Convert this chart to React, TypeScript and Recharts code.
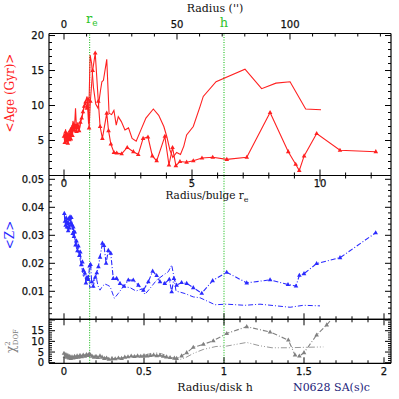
import { Line, LineChart, ReferenceLine, XAxis, YAxis } from "recharts";

const W = 399;
const H = 399;

// unit conversions
const RE_IN_H = 0.16; // bulge r_e expressed in disk scale lengths
const ARCSEC_PER_H = 70.8;

const H_DOMAIN: [number, number] = [-0.09375, 2.04375];
const RE_DOMAIN: [number, number] = [H_DOMAIN[0] / RE_IN_H, H_DOMAIN[1] / RE_IN_H];
const AS_DOMAIN: [number, number] = [H_DOMAIN[0] * ARCSEC_PER_H, H_DOMAIN[1] * ARCSEC_PER_H];

const AGE_DOMAIN: [number, number] = [0, 20.29];
const Z_DOMAIN: [number, number] = [0, 0.05136];
const CHI_DOMAIN: [number, number] = [-0.28, 20.35];

// ---- data: [radius, value] ----
// top panel, radius in r/r_e
const ageLum: [number, number][] = [
  [0.0, 5.6], [0.03, 4.7], [0.06, 6.2], [0.09, 4.9], [0.12, 5.9], [0.15, 4.6], [0.18, 5.5],
  [0.21, 5.1], [0.24, 6.4], [0.27, 5.2], [0.3, 6.8], [0.33, 5.7], [0.37, 7.3], [0.41, 6.5],
  [0.45, 7.1], [0.49, 6.3], [0.54, 7.0], [0.59, 6.4], [0.64, 7.6], [0.69, 8.2], [0.74, 9.1],
  [0.79, 9.9], [0.84, 10.5], [0.89, 9.6], [0.94, 10.9], [0.98, 6.8], [1.03, 10.6], [1.12, 15.0],
  [1.22, 17.5], [1.34, 10.6], [1.41, 7.0], [1.5, 5.3], [1.67, 8.9], [1.74, 6.4], [1.83, 4.5],
  [1.95, 3.3], [2.06, 3.2], [2.25, 3.1], [2.47, 4.0], [2.71, 3.4], [2.9, 3.0], [3.09, 5.3],
  [3.28, 5.5], [3.45, 2.8], [3.62, 2.1], [3.94, 5.6], [4.1, 1.5], [4.24, 4.0], [4.37, 1.4],
  [4.53, 2.0], [4.79, 1.9], [5.05, 2.1], [5.39, 2.5], [5.81, 2.6], [6.36, 2.3], [7.14, 2.6],
  [8.05, 9.0], [8.76, 3.4], [9.05, 1.6], [9.19, 0.7], [9.38, 2.8], [9.87, 6.0], [10.78, 3.6],
  [12.18, 3.4],
];
const ageMass: [number, number][] = [
  [0.0, 6.0], [0.03, 5.0], [0.06, 6.6], [0.09, 4.9], [0.12, 6.1], [0.15, 4.8], [0.19, 6.4],
  [0.23, 5.3], [0.27, 6.9], [0.31, 5.6], [0.35, 7.8], [0.4, 6.2], [0.45, 9.6], [0.49, 6.6],
  [0.54, 7.6], [0.6, 6.5], [0.66, 7.9], [0.72, 8.6], [0.78, 9.8], [0.84, 10.6], [0.9, 11.3],
  [0.96, 7.4], [1.02, 17.2], [1.08, 16.0], [1.15, 12.6], [1.24, 10.2], [1.33, 9.6], [1.42, 12.0],
  [1.48, 13.4], [1.54, 13.6], [1.67, 16.6], [1.76, 8.9], [1.86, 8.7], [1.95, 9.3], [2.04, 7.2],
  [2.12, 8.4], [2.24, 7.7], [2.38, 6.5], [2.52, 6.8], [2.66, 5.3], [2.82, 4.9], [2.98, 6.3],
  [3.2, 8.2], [3.49, 9.5], [3.7, 8.6], [3.9, 7.0], [4.02, 5.5], [4.14, 3.6], [4.25, 2.6],
  [4.4, 3.3], [4.55, 3.0], [4.68, 4.2], [4.79, 5.8], [5.05, 7.0], [5.31, 9.8], [5.44, 11.3],
  [5.94, 13.4], [7.07, 15.2], [7.72, 12.4], [8.28, 13.2], [8.83, 13.4], [9.44, 9.5], [10.04, 9.4],
];

// middle panel, radius in r/h
const zLum: [number, number][] = [
  [0.002, 0.0378], [0.006, 0.035], [0.01, 0.0336], [0.014, 0.0362], [0.018, 0.033], [0.022, 0.0346],
  [0.026, 0.0316], [0.03, 0.036], [0.034, 0.0326], [0.038, 0.0366], [0.042, 0.0344], [0.046, 0.0364],
  [0.05, 0.0338], [0.054, 0.0306], [0.058, 0.033], [0.062, 0.0296], [0.067, 0.0312], [0.072, 0.0265],
  [0.078, 0.028], [0.084, 0.0245], [0.09, 0.0262], [0.096, 0.0228], [0.102, 0.024], [0.108, 0.0195],
  [0.115, 0.0205], [0.122, 0.0175], [0.13, 0.0165], [0.137, 0.013], [0.144, 0.015], [0.152, 0.0142],
  [0.16, 0.019], [0.166, 0.0196], [0.173, 0.0134], [0.183, 0.0118], [0.195, 0.015], [0.205, 0.0166],
  [0.215, 0.0188], [0.225, 0.0222], [0.24, 0.0272], [0.25, 0.0264], [0.263, 0.02], [0.277, 0.0246],
  [0.292, 0.0236], [0.308, 0.0146], [0.329, 0.0146], [0.35, 0.0128], [0.375, 0.0118], [0.402, 0.014],
  [0.433, 0.014], [0.465, 0.0122], [0.496, 0.0104], [0.527, 0.0134], [0.554, 0.0172], [0.579, 0.0156],
  [0.6, 0.0134], [0.63, 0.0128], [0.658, 0.0143], [0.673, 0.0098], [0.687, 0.0146], [0.704, 0.0122],
  [0.735, 0.0131], [0.767, 0.0128], [0.808, 0.0113], [0.861, 0.0093], [0.929, 0.0138], [1.017, 0.0168],
  [1.142, 0.013], [1.288, 0.0141], [1.4, 0.0124], [1.45, 0.0119], [1.471, 0.0157], [1.5, 0.0163],
  [1.579, 0.0199], [1.725, 0.022], [1.948, 0.0309],
];
const zMass: [number, number][] = [
  [0.002, 0.037], [0.008, 0.034], [0.014, 0.0355], [0.02, 0.0322], [0.026, 0.0348], [0.032, 0.0318],
  [0.038, 0.0352], [0.044, 0.033], [0.05, 0.0345], [0.056, 0.03], [0.062, 0.0318], [0.07, 0.0275],
  [0.078, 0.0255], [0.086, 0.0235], [0.094, 0.0245], [0.102, 0.021], [0.112, 0.0185], [0.122, 0.015],
  [0.132, 0.017], [0.142, 0.014], [0.152, 0.016], [0.162, 0.0112], [0.172, 0.012], [0.185, 0.014],
  [0.2, 0.0155], [0.212, 0.012], [0.225, 0.0104], [0.24, 0.0118], [0.256, 0.0126], [0.272, 0.0122],
  [0.288, 0.0117], [0.315, 0.0075], [0.34, 0.0093], [0.371, 0.0117], [0.413, 0.0113], [0.45, 0.0101],
  [0.485, 0.0108], [0.506, 0.0089], [0.537, 0.011], [0.579, 0.014], [0.621, 0.0158], [0.652, 0.017],
  [0.673, 0.0194], [0.687, 0.0152], [0.7, 0.0101], [0.756, 0.0092], [0.808, 0.008], [0.85, 0.0077],
  [0.944, 0.0052], [1.017, 0.0054], [1.131, 0.005], [1.225, 0.0054], [1.413, 0.0043], [1.496, 0.005],
  [1.6, 0.0048],
];

// bottom panel, radius in r/h
const chiLum: [number, number][] = [
  [0.0, 4.4], [0.006, 3.0], [0.012, 3.8], [0.018, 2.6], [0.024, 3.4], [0.03, 2.2], [0.036, 3.0],
  [0.042, 2.0], [0.05, 2.8], [0.058, 2.2], [0.066, 3.0], [0.074, 2.4], [0.082, 3.2], [0.09, 2.6],
  [0.1, 3.4], [0.11, 2.8], [0.12, 3.6], [0.13, 3.0], [0.14, 3.8], [0.15, 3.4], [0.158, 4.2],
  [0.166, 3.6], [0.176, 3.0], [0.188, 2.6], [0.2, 3.0], [0.212, 2.4], [0.225, 3.2], [0.238, 2.6],
  [0.252, 2.0], [0.266, 2.2], [0.28, 1.6], [0.3, 2.0], [0.32, 1.8], [0.34, 2.2], [0.36, 2.0],
  [0.38, 2.6], [0.4, 2.8], [0.42, 3.1], [0.44, 2.9], [0.46, 3.2], [0.48, 3.0], [0.5, 3.3],
  [0.52, 3.1], [0.54, 3.4], [0.56, 3.6], [0.58, 3.3], [0.6, 3.5], [0.62, 3.0], [0.64, 2.7],
  [0.663, 2.4], [0.69, 2.1], [0.704, 2.0], [0.735, 3.2], [0.767, 4.7], [0.808, 7.2], [0.871, 8.6],
  [0.933, 10.3], [1.017, 13.7], [1.142, 16.9], [1.288, 14.4], [1.402, 10.6], [1.444, 3.6],
  [1.471, 3.1], [1.5, 4.7], [1.579, 13.0], [1.642, 17.7], [1.7, 23.0],
];
const chiMass: [number, number][] = [
  [0.0, 4.0], [0.01, 3.2], [0.02, 2.6], [0.035, 3.0], [0.05, 2.4], [0.07, 2.8], [0.09, 3.0],
  [0.11, 3.2], [0.13, 3.4], [0.15, 3.8], [0.17, 3.4], [0.19, 2.8], [0.21, 2.6], [0.24, 2.4],
  [0.27, 2.2], [0.3, 2.0], [0.34, 2.1], [0.38, 2.4], [0.42, 2.8], [0.46, 3.2], [0.5, 3.6],
  [0.54, 4.2], [0.58, 4.6], [0.61, 4.2], [0.65, 3.0], [0.69, 2.0], [0.73, 1.6], [0.76, 2.4],
  [0.81, 4.4], [0.87, 6.2], [0.95, 7.6], [1.017, 7.8], [1.142, 9.5], [1.22, 8.0], [1.3, 7.0],
  [1.4, 7.0], [1.5, 7.2], [1.621, 7.4],
];

// ---- ticks ----
const steps = (from: number, to: number, step: number) => {
  const out: number[] = [];
  for (let i = 0; from + i * step <= to + 1e-9; i++) out.push(Math.round((from + i * step) * 1e6) / 1e6);
  return out;
};
const asTicks = steps(0, 140, 10);
const asMajor = [0, 50, 100];
const reTicks = steps(0, 12, 1);
const reMajor = [0, 5, 10];
const hTicks = steps(0, 2, 0.1);
const hMajor = [0, 0.5, 1, 1.5, 2];
const hLabels = [0, 0.5, 1, 1.5, 2];
const ageTicks = steps(0, 20, 1);
const ageMajor = [0, 5, 10, 15, 20];
const ageLabels = [5, 10, 15, 20];
const zTicks = steps(0, 0.05, 0.002);
const zMajor = [0.01, 0.02, 0.03, 0.04, 0.05];
const chiTicks = steps(0, 20, 1);
const chiMajor = [0, 5, 10, 15, 20];
const chiLabels = [0, 5, 10, 15];

const RED = "#ff2020";
const BLUE = "#2a2aff";
const GRAY = "#808080";
const GREEN = "#2ec42e";
const INK = "#111";
const frame = { stroke: "#000", strokeWidth: 1.2 };
const guide = { stroke: GREEN, strokeWidth: 1.2, strokeDasharray: "1 1.5" };

const toPts = (rows: [number, number][]) => rows.map(([x, y]) => ({ x, y }));

type Side = "left" | "right" | "top" | "bottom";
const has = (list: number[], v: number) => list.some((m) => Math.abs(m - v) < 1e-7);

function axisTick(side: Side, major: number[], labels: number[], labelDy = 0) {
  return (props: any) => {
    const { x, y, payload, index } = props;
    const v = payload.value as number;
    const len = has(major, v) ? 6 : 3;
    const x2 = side === "left" ? x + len : side === "right" ? x - len : x;
    const y2 = side === "top" ? y + len : side === "bottom" ? y - len : y;
    const show = has(labels, v);
    return (
      <g key={`${side}-${index}`}>
        <line x1={x} y1={y} x2={x2} y2={y2} stroke="#000" strokeWidth={1} />
        {show && (
          <text
            x={side === "left" ? x - 5 : x}
            y={side === "left" ? y + 3.6 : y + labelDy}
            textAnchor={side === "left" ? "end" : "middle"}
            fontFamily="DejaVu Sans"
            fontSize={10}
            fill={INK}
            stroke={INK}
            strokeWidth={0.25}
          >
            {String(v)}
          </text>
        )}
      </g>
    );
  };
}

const triangle = (color: string) => (props: any) => {
  const { cx, cy, index } = props;
  if (cx == null || cy == null) return <g key={index} />;
  return <path key={index} d={`M${cx},${cy - 2.6}L${cx + 2.3},${cy + 1.5}L${cx - 2.3},${cy + 1.5}Z`} fill={color} />;
};

const axisCommon = {
  type: "number" as const,
  allowDataOverflow: true,
  interval: 0 as const,
  tickSize: 0,
  tickMargin: 0,
  axisLine: frame,
  tickLine: false,
};

// axes take 1px each, so the margins are 1px short of the plot edges
const panelMargin = (top: number, bottom: number) => ({ top: top - 1, bottom: H - bottom - 1, left: 48, right: 7 });

const layer: React.CSSProperties = { position: "absolute", left: 0, top: 0 };

export default function App() {
  return (
    <div style={{ position: "absolute", left: 0, top: 0, width: W, height: H, background: "#fff" }}>
      {/* age panel */}
      <div style={layer}>
        <LineChart width={W} height={H} margin={panelMargin(33.5, 175.5)}>
          <XAxis {...axisCommon} xAxisId="re" dataKey="x" domain={RE_DOMAIN} ticks={reTicks} height={1}
            tick={axisTick("bottom", reMajor, [])} />
          <XAxis {...axisCommon} xAxisId="as" orientation="top" dataKey="x" domain={AS_DOMAIN} ticks={asTicks} height={1}
            tick={axisTick("top", asMajor, asMajor, -6)} />
          <YAxis {...axisCommon} yAxisId="age" domain={AGE_DOMAIN} ticks={ageTicks} width={1}
            tick={axisTick("left", ageMajor, ageLabels)} />
          <YAxis {...axisCommon} yAxisId="ageR" orientation="right" domain={AGE_DOMAIN} ticks={ageTicks} width={1}
            tick={axisTick("right", ageMajor, [])} />
          <ReferenceLine xAxisId="re" yAxisId="age" x={1} {...guide} />
          <ReferenceLine xAxisId="re" yAxisId="age" x={1 / RE_IN_H} {...guide} />
          <Line xAxisId="re" yAxisId="age" data={toPts(ageMass)} dataKey="y" stroke={RED} strokeWidth={1.1}
            dot={false} isAnimationActive={false} />
          <Line xAxisId="re" yAxisId="age" data={toPts(ageLum)} dataKey="y" stroke={RED} strokeWidth={1.1}
            dot={triangle(RED)} isAnimationActive={false} />
        </LineChart>
      </div>

      {/* metallicity panel */}
      <div style={layer}>
        <LineChart width={W} height={H} margin={panelMargin(175.5, 319.3)}>
          <XAxis {...axisCommon} xAxisId="h" dataKey="x" domain={H_DOMAIN} ticks={hTicks} height={1}
            tick={axisTick("bottom", hMajor, [])} />
          <XAxis {...axisCommon} xAxisId="re" orientation="top" dataKey="x" domain={RE_DOMAIN} ticks={reTicks} height={1}
            tick={axisTick("top", reMajor, reMajor, 11.5)} />
          <YAxis {...axisCommon} yAxisId="z" domain={Z_DOMAIN} ticks={zTicks} width={1}
            tick={axisTick("left", zMajor, zMajor)} />
          <YAxis {...axisCommon} yAxisId="zR" orientation="right" domain={Z_DOMAIN} ticks={zTicks} width={1}
            tick={axisTick("right", zMajor, [])} />
          <ReferenceLine xAxisId="h" yAxisId="z" x={RE_IN_H} {...guide} />
          <ReferenceLine xAxisId="h" yAxisId="z" x={1} {...guide} />
          <Line xAxisId="h" yAxisId="z" data={toPts(zMass)} dataKey="y" stroke={BLUE} strokeWidth={1}
            strokeDasharray="5 2 1 2" dot={false} isAnimationActive={false} />
          <Line xAxisId="h" yAxisId="z" data={toPts(zLum)} dataKey="y" stroke={BLUE} strokeWidth={1.1}
            strokeDasharray="5 2 1 2" dot={triangle(BLUE)} isAnimationActive={false} />
        </LineChart>
      </div>

      {/* chi-square panel */}
      <div style={layer}>
        <LineChart width={W} height={H} margin={panelMargin(319.3, 363.3)}>
          <XAxis {...axisCommon} xAxisId="h" dataKey="x" domain={H_DOMAIN} ticks={hTicks} height={1}
            tick={axisTick("bottom", hMajor, hLabels, 12)} />
          <XAxis {...axisCommon} xAxisId="hT" orientation="top" dataKey="x" domain={H_DOMAIN} ticks={hTicks} height={1}
            tick={axisTick("top", hMajor, [])} />
          <YAxis {...axisCommon} yAxisId="c" domain={CHI_DOMAIN} ticks={chiTicks} width={1}
            tick={axisTick("left", chiMajor, chiLabels)} />
          <YAxis {...axisCommon} yAxisId="cR" orientation="right" domain={CHI_DOMAIN} ticks={chiTicks} width={1}
            tick={axisTick("right", chiMajor, [])} />
          <ReferenceLine xAxisId="h" yAxisId="c" x={RE_IN_H} {...guide} />
          <ReferenceLine xAxisId="h" yAxisId="c" x={1} {...guide} />
          <Line xAxisId="h" yAxisId="c" data={toPts(chiMass)} dataKey="y" stroke="#999" strokeWidth={1}
            strokeDasharray="6 2 1 2 1 2" dot={false} isAnimationActive={false} />
          <Line xAxisId="h" yAxisId="c" data={toPts(chiLum)} dataKey="y" stroke={GRAY} strokeWidth={1.1}
            strokeDasharray="5 2 1 2" dot={triangle(GRAY)} isAnimationActive={false} />
        </LineChart>
      </div>

      {/* titles */}
      <svg width={W} height={H} style={{ ...layer, pointerEvents: "none" }}>
        <g fontFamily="DejaVu Serif" fontSize={11} fill={INK}>
          <text x={215} y={12} textAnchor="middle">Radius ('')</text>
          <text x={207} y={199} textAnchor="middle" fontSize={10.5}>
            Radius/bulge r<tspan fontSize={8} dy={2.5}>e</tspan>
          </text>
          <text x={215} y={391} textAnchor="middle">Radius/disk h</text>
          <text x={293} y={391} fill="#23237a">N0628 SA(s)c</text>
        </g>
        <g fontFamily="DejaVu Serif" fill={GREEN}>
          <text x={86} y={22.5} fontSize={13}>
            r<tspan fontSize={9} dy={3}>e</tspan>
          </text>
          <text x={224} y={27} fontSize={13} textAnchor="middle">h</text>
        </g>
        <text transform="translate(13.5,93) rotate(-90)" textAnchor="middle" fontFamily="DejaVu Serif" fontSize={12} fill={RED}>
          {"<Age (Gyr)>"}
        </text>
        <text transform="translate(13.5,235) rotate(-90)" textAnchor="middle" fontFamily="DejaVu Serif" fontSize={12} fill={BLUE}>
          {"<Z>"}
        </text>
        <text transform="translate(15,341) rotate(-90)" textAnchor="middle" fontFamily="DejaVu Serif" fontSize={12} fill={GRAY}>
          χ<tspan fontSize={7} dy={-5}>2</tspan>
          <tspan fontSize={7} dx={-4} dy={8}>DOF</tspan>
        </text>
      </svg>
    </div>
  );
}
